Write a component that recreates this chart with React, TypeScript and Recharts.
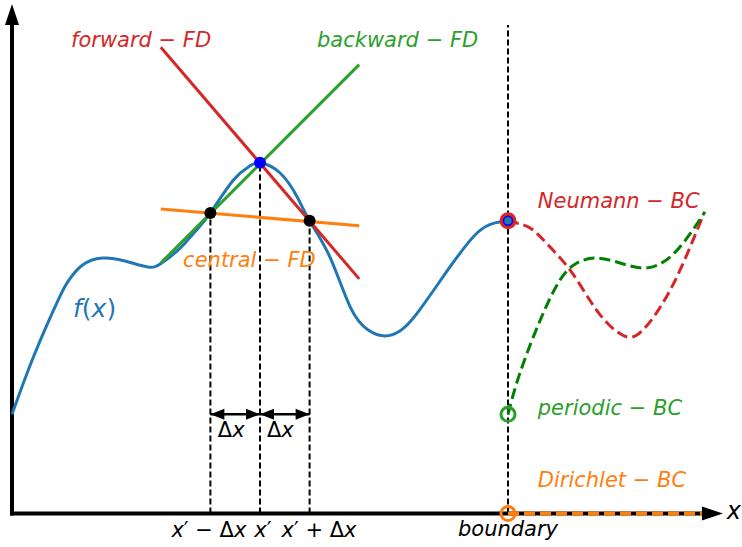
import React from 'react';
import { ComposedChart, Line, Scatter, XAxis, YAxis } from 'recharts';

// Canvas and scale: one data unit = UNIT px, axes cross at (X0, Y0)
const W = 742;
const H = 547;
const UNIT = 49.6;
const X0 = 12;
const Y0 = 513.5;
const xDomain = [-X0 / UNIT, (W - X0) / UNIT];
const yDomain = [-(H - Y0) / UNIT, Y0 / UNIT];

const BLUE = '#1f77b4';
const ORANGE = '#ff7f0e';
const GREEN = '#2ca02c';
const RED = '#d62728';
const FONT = 'DejaVu Sans';

// f(x) on the interior, boundary at x = 10
const fX = [0, 0.45, 0.93, 1.13, 1.41, 1.82, 2.28, 2.74, 3.02, 3.39, 3.69, 4, 4.46, 4.8, 5, 5.4, 5.75, 6, 6.41, 6.82, 7.18, 7.52, 7.82, 8.17, 8.83, 9.38, 9.74, 10];
const fY = [2.0, 3.2, 4.3, 4.68, 5.0, 5.15, 5.09, 4.97, 5.05, 5.35, 5.68, 6.06, 6.72, 7.01, 7.07, 6.87, 6.38, 5.9, 5.17, 4.16, 3.7, 3.58, 3.68, 4.04, 4.97, 5.66, 5.86, 5.9];

// ghost continuations past the boundary
const neumannX = [10, 10.24, 10.5, 10.85, 11.25, 11.65, 12, 12.4, 12.72, 13.07, 13.47, 13.93];
const neumannY = [5.9, 5.84, 5.72, 5.37, 4.91, 4.3, 3.84, 3.56, 3.7, 4.16, 4.91, 6.0];
const periodicX = [10, 10.24, 10.65, 11.05, 11.39, 11.79, 12.26, 12.72, 13.13, 13.53, 13.97];
const periodicY = [2.0, 2.83, 3.9, 4.71, 5.05, 5.15, 5.05, 4.95, 5.07, 5.45, 6.08];

// stencil points x' - dx, x', x' + dx
const stencilX = [4, 5, 6];
const stencilY = [6.06, 7.07, 5.9];
const BOUNDARY = 10;
const BOUNDARY_TOP = 9.85;
const DIRICHLET_END = 13.93;

// finite-difference secants, drawn from x = 3 to x = 7
const forwardY = [9.4, 4.73];
const backwardY = [5.05, 9.05];
const centralY = [6.14, 5.8];
const secantX = [3, 7];

const ARROW_Y = 2.0;
const AXIS_X_END = 13.91;

type Lbl = { x: number; y: number; text: string; color: string; size: number; anchor?: string };
const labels: Lbl[] = [
  { x: 1.19, y: 9.4, text: 'forward − FD', color: RED, size: 21 },
  { x: 6.15, y: 9.4, text: 'backward − FD', color: GREEN, size: 21 },
  { x: 3.45, y: 4.97, text: 'central − FD', color: ORANGE, size: 21 },
  { x: 1.23, y: 3.96, text: 'f(x)', color: BLUE, size: 25 },
  { x: 10.6, y: 6.16, text: 'Neumann − BC', color: RED, size: 21 },
  { x: 10.6, y: 1.99, text: 'periodic − BC', color: GREEN, size: 21 },
  { x: 10.6, y: 0.53, text: 'Dirichlet − BC', color: ORANGE, size: 21 },
  { x: 10, y: -0.45, text: 'boundary', color: '#000', size: 21, anchor: 'middle' },
  { x: 3.97, y: -0.47, text: 'x′ − Δx', color: '#000', size: 21, anchor: 'middle' },
  { x: 5.06, y: -0.47, text: 'x′', color: '#000', size: 21, anchor: 'middle' },
  { x: 6.19, y: -0.47, text: 'x′ + Δx', color: '#000', size: 21, anchor: 'middle' },
  { x: 4.42, y: 1.54, text: 'Δx', color: '#000', size: 21, anchor: 'middle' },
  { x: 5.41, y: 1.54, text: 'Δx', color: '#000', size: 21, anchor: 'middle' },
  { x: 14.41, y: -0.12, text: 'x', color: '#000', size: 24 },
];

const zip = (xs: number[], ys: number[]) => xs.map((x, i) => ({ x, y: ys[i] }));
const vline = (x: number, y0: number, y1: number) => [{ x, y: y0 }, { x, y: y1 }];
const hline = (x0: number, x1: number, y: number) => [{ x: x0, y }, { x: x1, y }];

const fData = zip(fX, fY);
const neumannData = zip(neumannX, neumannY);
const periodicData = zip(periodicX, periodicY);

// letters italic, symbols upright, like mathtext
const MathText = (props: any) => {
  const d = props.payload ?? props;
  const parts: string[] = d.text.split(/([A-Za-z]+)/).filter((s: string) => s !== '');
  return (
    <text x={props.cx} y={props.cy} fill={d.color} fontSize={d.size} fontFamily={FONT} textAnchor={d.anchor ?? 'start'}>
      {parts.map((s, i) => (
        <tspan key={i} fontStyle={/[A-Za-z]/.test(s) ? 'italic' : 'normal'}>{s}</tspan>
      ))}
    </text>
  );
};

const Marker = (props: any) => {
  const d = props.payload ?? props;
  return (
    <circle cx={props.cx} cy={props.cy} r={d.r} fill={d.fill} stroke={d.stroke ?? 'none'} strokeWidth={d.sw ?? 0} />
  );
};

type Dir = 'left' | 'right' | 'up' | null;
const VEC: Record<string, [number, number]> = { left: [-1, 0], right: [1, 0], up: [0, -1] };

// arrow heads drawn as line dots; tipAtPoint puts the tip on the data point, otherwise the base
const arrowDot = (dirs: Dir[], len: number, half: number, tipAtPoint: boolean) => (p: any) => {
  const dir = dirs[p.index];
  if (!dir) return <g key={p.index} />;
  const [ux, uy] = VEC[dir];
  const tx = tipAtPoint ? p.cx : p.cx + ux * len;
  const ty = tipAtPoint ? p.cy : p.cy + uy * len;
  const bx = tx - ux * len;
  const by = ty - uy * len;
  const nx = -uy;
  const ny = ux;
  const pts = `${tx},${ty} ${bx + nx * half},${by + ny * half} ${bx - nx * half},${by - ny * half}`;
  return <polygon key={p.index} points={pts} fill="#000" />;
};

const stencilDots = [
  { x: stencilX[0], y: stencilY[0], r: 6, fill: '#000' },
  { x: stencilX[2], y: stencilY[2], r: 6, fill: '#000' },
  { x: stencilX[1], y: stencilY[1], r: 6, fill: '#0000ff' },
];
const boundaryMarks = [
  { x: BOUNDARY, y: fY[fY.length - 1], r: 8.5, fill: RED },
  { x: BOUNDARY, y: fY[fY.length - 1], r: 4.5, fill: BLUE, stroke: '#0000ff', sw: 1.5 },
];
const ringMarks = [
  { x: BOUNDARY, y: periodicY[0], r: 7, fill: 'none', stroke: GREEN, sw: 3 },
  { x: BOUNDARY, y: 0, r: 7, fill: 'none', stroke: ORANGE, sw: 3 },
];

const dashed = { strokeDasharray: '6 3', strokeWidth: 2, stroke: '#000' };

export default function App() {
  return (
    <div style={{ position: 'absolute', left: 0, top: 0, width: W, height: H, background: '#fff' }}>
      <ComposedChart width={W} height={H} margin={{ top: 0, right: 0, bottom: 0, left: 0 }}>
        <XAxis type="number" dataKey="x" domain={xDomain} hide allowDataOverflow />
        <YAxis type="number" dataKey="y" domain={yDomain} hide allowDataOverflow />

        {/* axes with arrow heads */}
        <Line data={vline(0, -0.04, BOUNDARY_TOP)} dataKey="y" stroke="#000" strokeWidth={4} dot={arrowDot([null, 'up'], 21, 7, false)} activeDot={false} isAnimationActive={false} />
        <Line data={hline(-0.04, AXIS_X_END, 0)} dataKey="y" stroke="#000" strokeWidth={4} dot={arrowDot([null, 'right'], 21, 7, false)} activeDot={false} isAnimationActive={false} />

        {/* stencil guides */}
        {stencilX.map((x, i) => (
          <Line key={x} data={vline(x, 0, stencilY[i])} dataKey="y" {...dashed} dot={false} activeDot={false} isAnimationActive={false} />
        ))}

        <Line data={fData} dataKey="y" type="natural" stroke={BLUE} strokeWidth={3} dot={false} activeDot={false} isAnimationActive={false} />

        <Scatter data={boundaryMarks} shape={Marker} isAnimationActive={false} />
        <Line data={vline(BOUNDARY, 0, BOUNDARY_TOP)} dataKey="y" {...dashed} dot={false} activeDot={false} isAnimationActive={false} />
        <Line data={neumannData} dataKey="y" type="natural" stroke={RED} strokeWidth={3} strokeDasharray="11 5" dot={false} activeDot={false} isAnimationActive={false} />
        <Line data={periodicData} dataKey="y" type="natural" stroke="#008000" strokeWidth={3} strokeDasharray="11 5" dot={false} activeDot={false} isAnimationActive={false} />
        <Line data={hline(BOUNDARY, DIRICHLET_END, 0)} dataKey="y" stroke={ORANGE} strokeWidth={4} strokeDasharray="11 5" dot={false} activeDot={false} isAnimationActive={false} />

        <Scatter data={stencilDots} shape={Marker} isAnimationActive={false} />

        {/* secant approximations */}
        <Line data={zip(secantX, forwardY)} dataKey="y" stroke={RED} strokeWidth={3} dot={false} activeDot={false} isAnimationActive={false} />
        <Line data={zip(secantX, backwardY)} dataKey="y" stroke={GREEN} strokeWidth={3} dot={false} activeDot={false} isAnimationActive={false} />
        <Line data={zip(secantX, centralY)} dataKey="y" stroke={ORANGE} strokeWidth={3} dot={false} activeDot={false} isAnimationActive={false} />

        <Scatter data={ringMarks} shape={Marker} isAnimationActive={false} />

        {/* delta-x spans */}
        <Line data={hline(stencilX[0], stencilX[1], ARROW_Y)} dataKey="y" stroke="#000" strokeWidth={2.5} dot={arrowDot(['left', 'right'], 14, 5.5, true)} activeDot={false} isAnimationActive={false} />
        <Line data={hline(stencilX[1], stencilX[2], ARROW_Y)} dataKey="y" stroke="#000" strokeWidth={2.5} dot={arrowDot(['left', 'right'], 14, 5.5, true)} activeDot={false} isAnimationActive={false} />

        <Scatter data={labels} shape={MathText} isAnimationActive={false} />
      </ComposedChart>
    </div>
  );
}
